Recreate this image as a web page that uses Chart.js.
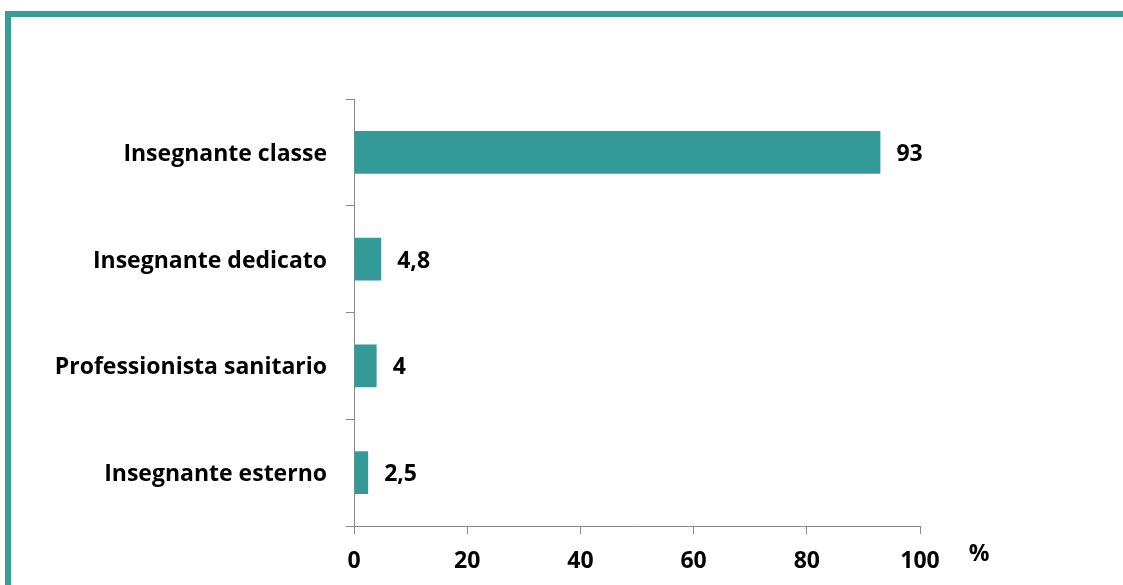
<!DOCTYPE html>
<html>
<head>
<meta charset="utf-8">
<script src="https://cdn.jsdelivr.net/npm/chart.js@4/dist/chart.umd.min.js"></script>
<style>
  html, body { margin: 0; padding: 0; background: #ffffff; }
  #wrap { position: relative; width: 1123px; height: 585px; overflow: hidden; }
  #frame { position: absolute; left: 5px; top: 11px; width: 1200px; height: 700px;
           border-left: 6px solid #369e9a; border-top: 6px solid #369e9a; box-sizing: border-box; }
  canvas { position: absolute; left: 0; top: 0; }
</style>
</head>
<body>
<div id="wrap">
  <div id="frame"></div>
  <canvas id="c" width="1123" height="585" style="width:1123px;height:585px"></canvas>
</div>
<script>
const categories = ["Insegnante classe", "Insegnante dedicato", "Professionista sanitario", "Insegnante esterno"];
const values = [93, 4.8, 4, 2.5];
const valueLabels = ["93", "4,8", "4", "2,5"];
const xTicks = [0, 20, 40, 60, 80, 100];
const unitLabel = "%";

const FONT = "'Open Sans', sans-serif";
const FSIZE = 23;
const BAR = "#339a98";
const AXIS = "#8a8a8a";

const labelPlugin = {
  id: 'valueLabels',
  afterDatasetsDraw(chart) {
    const ctx = chart.ctx;
    const meta = chart.getDatasetMeta(0);
    ctx.save();
    ctx.font = "bold " + FSIZE + "px " + FONT;
    ctx.fillStyle = "#000";
    ctx.textAlign = "left";
    ctx.textBaseline = "middle";
    meta.data.forEach((bar, i) => {
      ctx.fillText(valueLabels[i], bar.x + 16, bar.y + 2);
    });
    const xs = chart.scales.x;
    ctx.textAlign = "center";
    ctx.fillText(unitLabel, xs.right + 59, xs.top + 28);
    ctx.restore();
  }
};

new Chart(document.getElementById('c'), {
  type: 'bar',
  data: {
    labels: categories,
    datasets: [{
      data: values,
      backgroundColor: BAR,
      borderWidth: 0,
      barPercentage: 0.4,
      categoryPercentage: 1.0
    }]
  },
  options: {
    indexAxis: 'y',
    responsive: false,
    animation: false,
    events: [],
    layout: { padding: { left: 0, top: 99, right: 203, bottom: 0 } },
    plugins: { legend: { display: false }, tooltip: { enabled: false } },
    scales: {
      x: {
        type: 'linear',
        min: 0, max: 100,
        afterBuildTicks(scale) { scale.ticks = xTicks.map(v => ({ value: v })); },
        afterFit(scale) { scale.height = 59; },
        grid: { display: true, drawOnChartArea: false, drawTicks: true, tickLength: 8, color: AXIS, lineWidth: 1 },
        border: { display: true, color: AXIS, width: 1 },
        ticks: { color: "#000", font: { family: FONT, size: FSIZE, weight: 'bold' }, padding: 14, maxRotation: 0 }
      },
      y: {
        afterFit(scale) { scale.width = 354; },
        grid: { display: true, offset: true, drawOnChartArea: false, drawTicks: true, tickLength: 8, color: AXIS, lineWidth: 1 },
        border: { display: true, color: AXIS, width: 1 },
        ticks: { color: "#000", font: { family: FONT, size: FSIZE, weight: 'bold' }, padding: 19, labelOffset: 2 }
      }
    }
  },
  plugins: [labelPlugin]
});
</script>
</body>
</html>
